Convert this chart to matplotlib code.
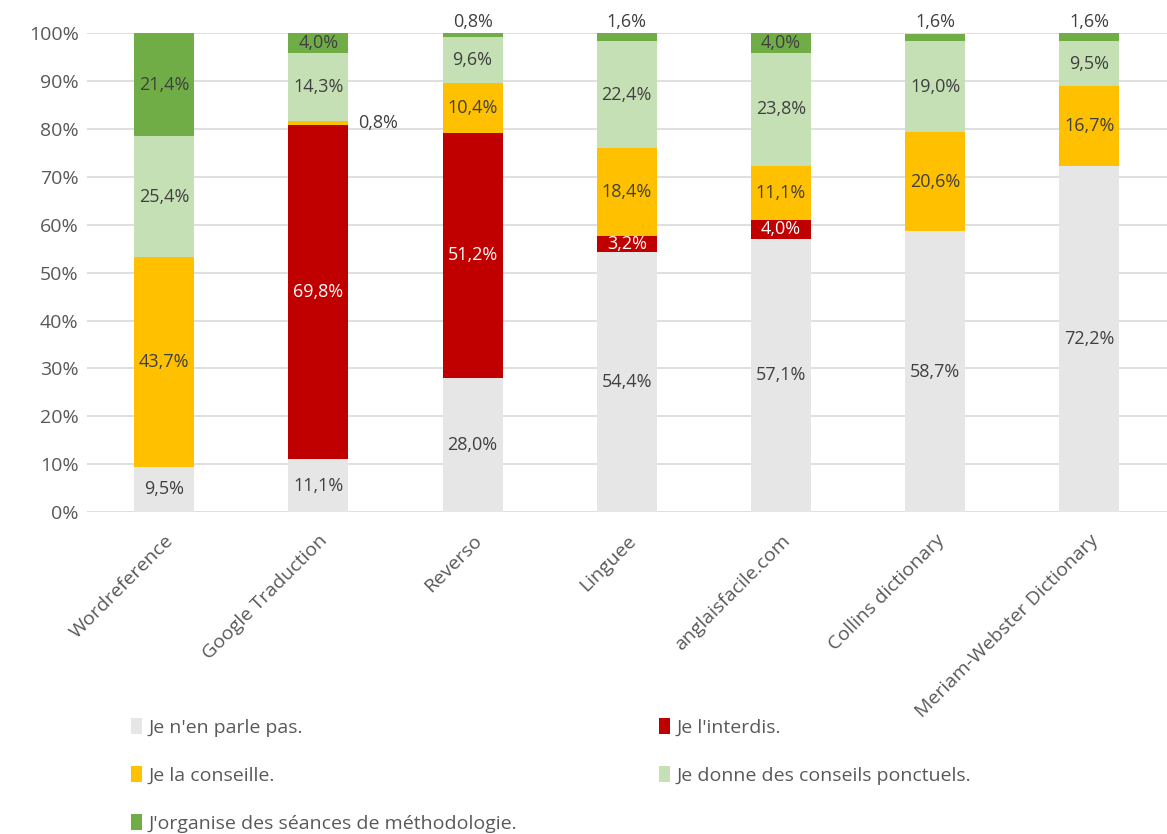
import matplotlib
matplotlib.use('Agg')
import matplotlib.pyplot as plt
import numpy as np
from matplotlib.patches import Patch

plt.rcParams['font.family'] = ['Open Sans', 'DejaVu Sans']

# ---- données ----
outils = ['Wordreference', 'Google Traduction', 'Reverso', 'Linguee',
          'anglaisfacile.com', 'Collins dictionary', 'Meriam-Webster Dictionary']
series = ["Je n'en parle pas.", "Je l'interdis.", "Je la conseille.",
          "Je donne des conseils ponctuels.", "J'organise des séances de méthodologie."]
pas_parle = [9.5, 11.1, 28.0, 54.4, 57.1, 58.7, 72.2]
interdis = [0.0, 69.8, 51.2, 3.2, 4.0, 0.0, 0.0]
conseille = [43.7, 0.8, 10.4, 18.4, 11.1, 20.6, 16.7]
ponctuels = [25.4, 14.3, 9.6, 22.4, 23.8, 19.0, 9.5]
methodo = [21.4, 4.0, 0.8, 1.6, 4.0, 1.6, 1.6]

colors = ['#E7E6E6', '#C00000', '#FFC000', '#C5E0B4', '#70AD47']
txt_colors = ['#404040', 'white', '#404040', '#404040', '#404040']
data = [pas_parle, interdis, conseille, ponctuels, methodo]

fig = plt.figure(figsize=(11.67, 8.34), dpi=100)
ax = fig.add_axes([0.0746, 0.386, 0.925, 0.574])

x = np.arange(len(outils))
w = 0.39
bottom = np.zeros(len(outils))
for vals, c, tc in zip(data, colors, txt_colors):
    vals = np.array(vals)
    ax.bar(x, vals, w, bottom=bottom, color=c, zorder=3)
    for i, v in enumerate(vals):
        if v <= 0:
            continue
        lab = f'{v:.1f}%'.replace('.', ',')
        top = bottom[i] + v
        if v < 2:
            if top >= 99.5:
                ax.text(x[i], top + 0.5, lab, ha='center', va='bottom',
                        fontsize=13, color='#404040')
            else:
                ax.text(x[i] + w / 2 + 0.06, bottom[i] + v / 2, lab,
                        ha='left', va='center', fontsize=13, color='#404040')
        else:
            ax.text(x[i], bottom[i] + v / 2, lab, ha='center', va='center',
                    fontsize=13, color=tc, zorder=4)
    bottom += vals

ax.set_xlim(-0.5, len(outils) - 0.5)
ax.set_ylim(0, 100)
ax.set_yticks(np.arange(0, 101, 10))
ax.set_yticklabels([f'{t}%' for t in range(0, 101, 10)])
ax.yaxis.grid(True, color='#D9D9D9', linewidth=1.2, zorder=0)
for s in ax.spines.values():
    s.set_visible(False)
ax.tick_params(axis='both', length=0, labelsize=14, colors='#595959')
ax.set_xticks(x)
ax.set_xticklabels(outils, rotation=45, ha='right', rotation_mode='anchor')
ax.tick_params(axis='x', pad=14)
ax.tick_params(axis='y', pad=6)

order = [0, 2, 4, 1, 3]
handles = [Patch(facecolor=colors[k], label=series[k]) for k in order]
fig.legend(handles=handles, ncol=2, loc='upper left', bbox_to_anchor=(0.097, 0.16),
           frameon=False, fontsize=14, handlelength=0.6, handleheight=0.9,
           handletextpad=0.3, columnspacing=7.3, labelspacing=1.5,
           labelcolor='#595959')

fig.savefig('out.png', dpi=100)
